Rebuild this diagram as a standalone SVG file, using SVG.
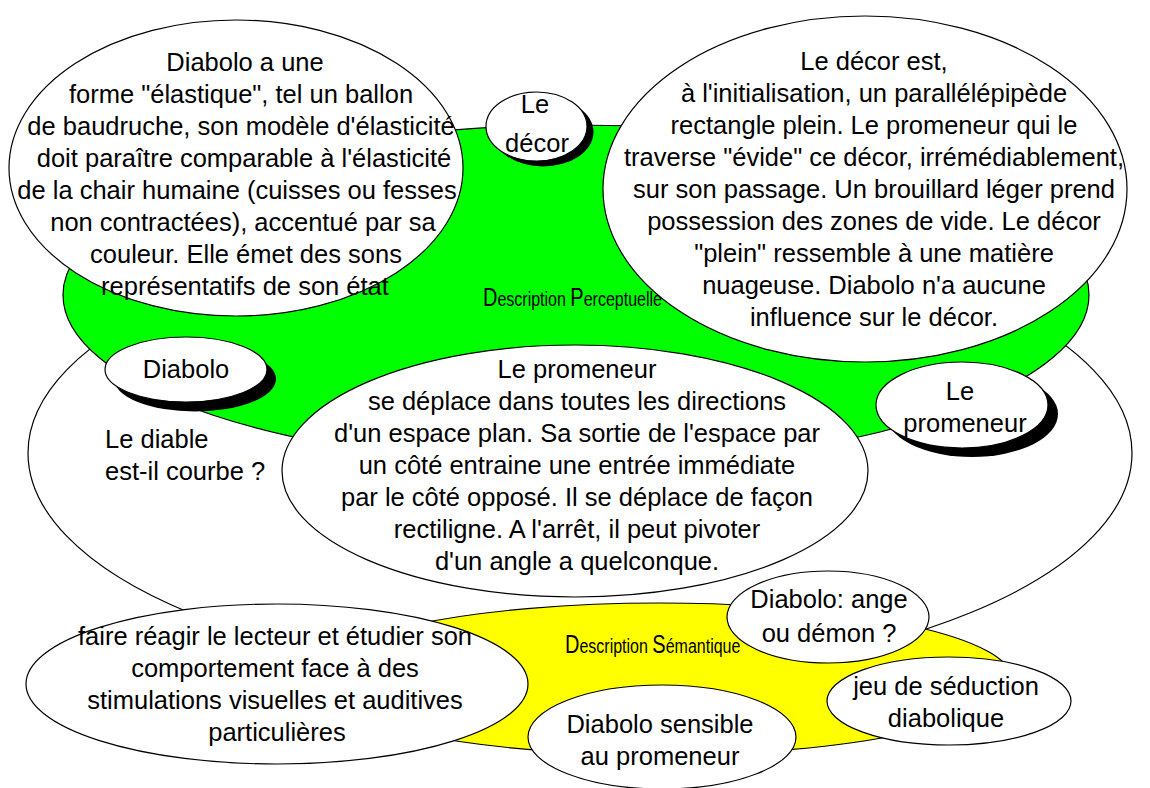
<svg xmlns="http://www.w3.org/2000/svg" width="1150" height="788" viewBox="0 0 1150 788">
<style>
.b{fill:#fff;stroke:#000;stroke-width:1.2}
.s{fill:#000;stroke:none}
.t{font-family:"Liberation Sans",Arial,Helvetica,sans-serif;font-size:25.5px;fill:#000;text-anchor:middle}
.l{font-family:"Liberation Sans",Arial,Helvetica,sans-serif;fill:#000;font-size:20px}
.big{font-size:25px}
</style>
<rect width="1150" height="788" fill="#fff"/>
<g id="zone-diable">
<ellipse class="b" cx="580" cy="453" rx="552" ry="226"/>
<text class="t" style="text-anchor:start" x="105" y="448">Le diable</text>
<text class="t" style="text-anchor:start" x="105" y="480">est-il courbe ?</text>
</g>
<g id="description-perceptuelle">
<ellipse cx="576" cy="295" rx="513" ry="170" fill="#00ff00" stroke="#000" stroke-width="1.2"/>
<text class="l" transform="translate(483 306) scale(0.8 1)" x="0" y="0"><tspan class="big">D</tspan>escription <tspan class="big">P</tspan>erceptuelle</text>
</g>
<g id="description-semantique">
<ellipse cx="660" cy="679" rx="352" ry="76" fill="#ffff00" stroke="#000" stroke-width="1.2"/>
<text class="l" transform="translate(565 653) scale(0.8 1)" x="0" y="0"><tspan class="big">D</tspan>escription <tspan class="big">S</tspan>émantique</text>
</g>
<g id="diabolo-forme">
<ellipse class="b" cx="236" cy="168" rx="227" ry="148"/>
<text class="t" x="245" y="71">Diabolo a une</text>
<text class="t" x="241" y="103">forme "élastique", tel un ballon</text>
<text class="t" x="241" y="135">de baudruche, son modèle d'élasticité</text>
<text class="t" x="244" y="167">doit paraître comparable à l'élasticité</text>
<text class="t" x="237" y="199">de la chair humaine (cuisses ou fesses</text>
<text class="t" x="243" y="231">non contractées), accentué par sa</text>
<text class="t" x="246" y="263">couleur. Elle émet des sons</text>
<text class="t" x="245" y="295">représentatifs de son état</text>
</g>
<g id="decor-description">
<ellipse class="b" cx="865" cy="189" rx="262" ry="173"/>
<text class="t" x="874" y="70">Le décor est,</text>
<text class="t" x="874" y="102">à l'initialisation, un parallélépipède</text>
<text class="t" x="874" y="134">rectangle plein. Le promeneur qui le</text>
<text class="t" x="874" y="166">traverse "évide" ce décor, irrémédiablement,</text>
<text class="t" x="874" y="198">sur son passage. Un brouillard léger prend</text>
<text class="t" x="874" y="230">possession des zones de vide. Le décor</text>
<text class="t" x="874" y="262">"plein" ressemble à une matière</text>
<text class="t" x="874" y="294">nuageuse. Diabolo n'a aucune</text>
<text class="t" x="874" y="326">influence sur le décor.</text>
</g>
<g id="promeneur-description">
<ellipse class="b" cx="575" cy="471" rx="293" ry="126"/>
<text class="t" x="577" y="378">Le promeneur</text>
<text class="t" x="577" y="410">se déplace dans toutes les directions</text>
<text class="t" x="577" y="442">d'un espace plan. Sa sortie de l'espace par</text>
<text class="t" x="577" y="474">un côté entraine une entrée immédiate</text>
<text class="t" x="577" y="506">par le côté opposé. Il se déplace de façon</text>
<text class="t" x="577" y="538">rectiligne. A l'arrêt, il peut pivoter</text>
<text class="t" x="577" y="570">d'un angle a quelconque.</text>
</g>
<g id="le-decor">
<ellipse class="s" cx="543" cy="132" rx="50.5" ry="34.5"/>
<ellipse class="b" cx="536.5" cy="126.5" rx="50.5" ry="34.5"/>
<text class="t" x="535" y="113">Le</text>
<text class="t" x="537" y="152">décor</text>
</g>
<g id="diabolo">
<ellipse class="s" cx="195" cy="379" rx="81" ry="32.5"/>
<ellipse class="b" cx="186" cy="369.5" rx="81" ry="32.5"/>
<text class="t" x="186" y="378">Diabolo</text>
</g>
<g id="le-promeneur">
<ellipse class="s" cx="972" cy="414" rx="86" ry="43"/>
<ellipse class="b" cx="962" cy="405" rx="86" ry="43"/>
<text class="t" x="960" y="400">Le</text>
<text class="t" x="965" y="432">promeneur</text>
</g>
<g id="faire-reagir">
<ellipse class="b" cx="277" cy="684" rx="251" ry="80"/>
<text class="t" x="275" y="645">faire réagir le lecteur et étudier son</text>
<text class="t" x="275" y="677">comportement face à des</text>
<text class="t" x="275" y="709">stimulations visuelles et auditives</text>
<text class="t" x="277" y="741">particulières</text>
</g>
<g id="ange-demon">
<ellipse class="b" cx="828" cy="617" rx="101" ry="46"/>
<text class="t" x="829" y="608">Diabolo: ange</text>
<text class="t" x="829" y="642">ou démon ?</text>
</g>
<g id="jeu-seduction">
<ellipse class="b" cx="949" cy="701" rx="122" ry="44"/>
<text class="t" x="946" y="695">jeu de séduction</text>
<text class="t" x="946" y="727">diabolique</text>
</g>
<g id="diabolo-sensible">
<ellipse class="b" cx="662" cy="737" rx="134" ry="52"/>
<text class="t" x="660" y="733">Diabolo sensible</text>
<text class="t" x="660" y="765">au promeneur</text>
</g>
<g id="connectors"/>
</svg>
